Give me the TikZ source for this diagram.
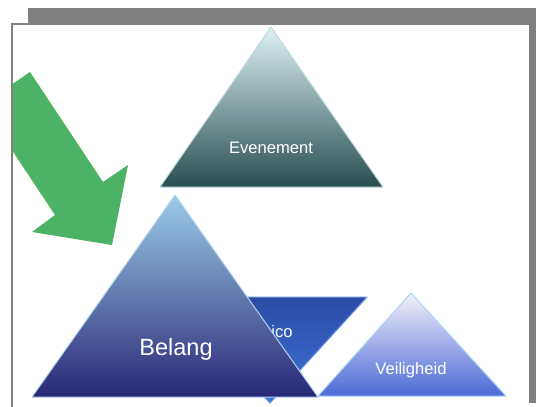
\documentclass[tikz,border=0pt]{standalone}
\usepackage{fontspec}
\setmainfont{Liberation Sans}
\definecolor{slidegray}{RGB}{128,128,128}
\definecolor{arrowgreen}{RGB}{76,178,101}
\definecolor{evtop}{RGB}{222,243,246}
\definecolor{evmid}{RGB}{120,162,162}
\definecolor{evbot}{RGB}{40,78,80}
\definecolor{beltop}{RGB}{156,203,232}
\definecolor{belmid}{RGB}{88,118,182}
\definecolor{belbot}{RGB}{40,40,118}
\definecolor{ristop}{RGB}{44,74,166}
\definecolor{risbot}{RGB}{62,118,218}
\definecolor{veitop}{RGB}{244,240,250}
\definecolor{veimid}{RGB}{132,194,248}
\definecolor{veibot}{RGB}{74,106,214}
\begin{document}
\begin{tikzpicture}[x=1pt,y=-1pt,
    txt/.style={text=white,inner sep=0pt,anchor=base},
    tri/.style={line width=1pt,line join=round}]
  \useasboundingbox (0,0) rectangle (536,407);
  % slide and its shadow
  \fill [slidegray] (28,8) rectangle (536,403);
  \fill [white] (12,24) rectangle (529,407);
  \draw [slidegray,line width=1.5pt] (12,407) -- (12,24) -- (529,24);
  % top triangle
  \shade [tri,draw=evtop!70!evmid,top color=evtop,middle color=evmid,bottom color=evbot]
        (160,187) -- (271,27) -- (383,187) -- cycle;
  \node [txt,font=\fontsize{16.6}{17}\selectfont] (evt) at (271,153) {Evenement};
  % green arrow
  \begin{scope}
    \clip (13,25) rectangle (529,407);
    \fill [arrowgreen] (30,72) -- (103,182) -- (128,165) -- (112,245)
          -- (32,232) -- (55,215) -- (-18,105) -- cycle;
  \end{scope}
  % upside down triangle
  \shade [tri,draw=risbot!80!white,top color=ristop,bottom color=risbot]
        (173,297) -- (367,297) -- (270,403) -- cycle;
  \node [txt,font=\fontsize{16.6}{17}\selectfont] (ris) at (270,337) {Risico};
  % big triangle
  \shade [tri,draw=beltop!80!white,top color=beltop,middle color=belmid,bottom color=belbot]
        (32,397) -- (175,195) -- (318,397) -- cycle;
  \node [txt,font=\fontsize{23.5}{24}\selectfont] (bel) at (176,355) {Belang};
  % right triangle
  \shade [tri,draw=veimid!70!white,top color=veitop,middle color=veimid,bottom color=veibot]
        (318,396) -- (411,293) -- (506,396) -- cycle;
  \node [txt,font=\fontsize{16.6}{17}\selectfont] (vei) at (411,374) {Veiligheid};
\end{tikzpicture}
\end{document}
